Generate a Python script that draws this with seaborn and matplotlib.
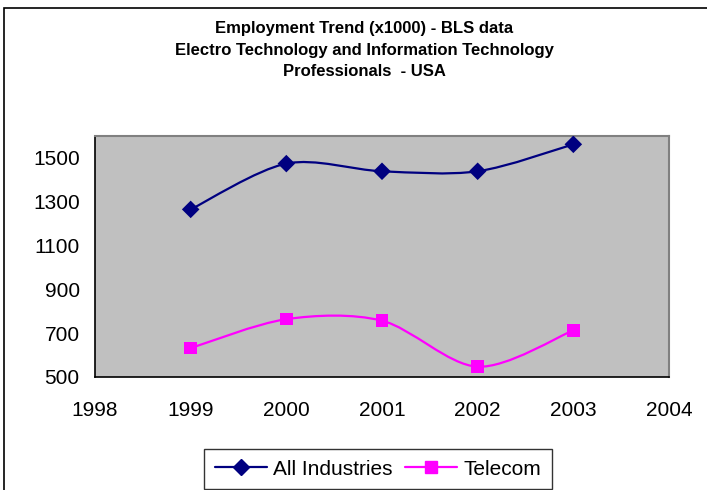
import numpy as np
import pandas as pd
import seaborn as sns
import matplotlib.pyplot as plt
from matplotlib.path import Path
from matplotlib.patches import PathPatch, Rectangle
from matplotlib.lines import Line2D

# values (x1000 employees)
years = [1999, 2000, 2001, 2002, 2003]
all_industries = [1265, 1474, 1439, 1439, 1562]
telecom = [632, 764, 757, 547, 713]
series_names = ['All Industries', 'Telecom']
colors = ['#000080', '#FF00FF']
markers = ['D', 's']
x_ticks = [1998, 1999, 2000, 2001, 2002, 2003, 2004]
y_ticks = [500, 700, 900, 1100, 1300, 1500]
title_lines = ['Employment Trend (x1000) - BLS data',
               'Electro Technology and Information Technology',
               'Professionals  - USA']

df = pd.DataFrame({
    'year': years * 2,
    'value': all_industries + telecom,
    'series': [n for n in series_names for _ in years],
})

sns.set_style('white')
plt.rcParams['font.family'] = ['Liberation Sans', 'DejaVu Sans']
plt.rcParams['text.color'] = 'black'


def smooth_path(x, y):
    # excel style smoothed line: cubic bezier through each point
    pts = np.column_stack([x, y]).astype(float)
    ext = np.vstack([pts[0], pts, pts[-1]])
    verts = [pts[0]]
    codes = [Path.MOVETO]
    for i in range(len(pts) - 1):
        p0, p1, p2, p3 = ext[i], ext[i + 1], ext[i + 2], ext[i + 3]
        verts += [p1 + (p2 - p0) / 6.5, p2 - (p3 - p1) / 6.5, p2]
        codes += [Path.CURVE4] * 3
    return Path(verts, codes)


fig = plt.figure(figsize=(7.07, 4.9), dpi=100)
ax = fig.add_axes([95 / 707, 1 - 377 / 490, (669 - 95) / 707, (377 - 136) / 490])
ax.set_facecolor('#C0C0C0')

for name, c in zip(series_names, colors):
    sub = df[df.series == name]
    ax.add_patch(PathPatch(smooth_path(sub.year, sub.value), fill=False,
                           edgecolor=c, lw=1.6, zorder=2))

sns.scatterplot(data=df, x='year', y='value', hue='series', style='series',
                palette=dict(zip(series_names, colors)),
                markers=dict(zip(series_names, markers)),
                s=80, linewidth=0, legend=False, ax=ax, zorder=3)

ax.set_xlim(1998, 2004)
ax.set_ylim(500, 1600)
ax.set_xticks(x_ticks)
ax.set_yticks(y_ticks)
ax.set_xlabel('')
ax.set_ylabel('')
ax.tick_params(direction='out', length=5, width=1, labelsize=15, colors='black', pad=6)
ax.tick_params(axis='x', pad=12)
for side in ['left', 'bottom']:
    ax.spines[side].set_color('black')
    ax.spines[side].set_linewidth(1.2)
for side in ['top', 'right']:
    ax.spines[side].set_color('#808080')
    ax.spines[side].set_linewidth(1.5)

for line, ypix in zip(title_lines, [28, 50, 72]):
    fig.text(364 / 707, 1 - ypix / 490, line, ha='center', va='center',
             fontsize=12, fontweight='bold', color='black')

# chart area border
fig.patches.append(Rectangle((4 / 707, -0.05), 1.0, 1.05 - 8 / 490,
                             transform=fig.transFigure, fill=False,
                             edgecolor='black', lw=1.2))

handles = [Line2D([], [], color=c, marker=m, markersize=8, lw=1.6)
           for c, m in zip(colors, markers)]
leg = fig.legend(handles, series_names, loc='center',
                 bbox_to_anchor=(378 / 707, 1 - 469 / 490), ncol=2,
                 fontsize=15, frameon=True, fancybox=False,
                 edgecolor='black', handlelength=2.5, handletextpad=0.3,
                 columnspacing=0.6, borderpad=0.5, borderaxespad=0.3)
leg.get_frame().set_linewidth(1.0)

fig.savefig('out.png', dpi=100)
